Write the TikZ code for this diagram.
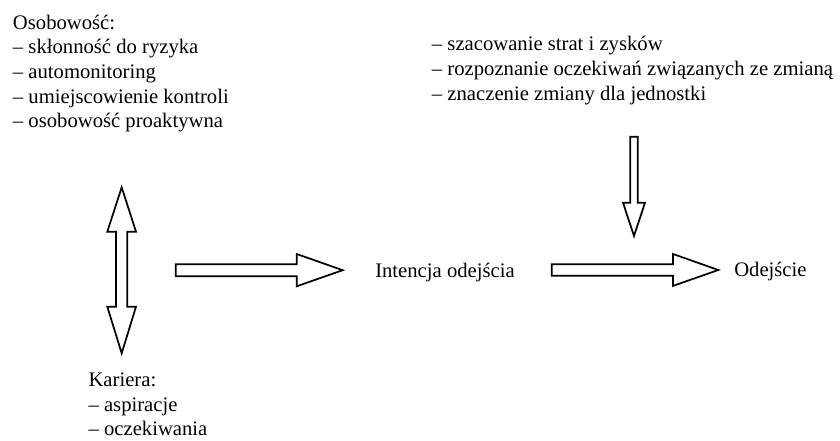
\documentclass[tikz,border=0pt]{standalone}
\usepackage{fontspec}
\setmainfont{Liberation Serif}
\begin{document}
\begin{tikzpicture}[x=0.75pt,y=-0.75pt,
  txt/.style={inner sep=0pt, align=left, anchor=base west,
              font=\fontsize{15.5}{18.5}\selectfont},
  blockarrow/.style={draw=black, line width=1.3pt, fill=white, line join=miter}]
\useasboundingbox (0,0) rectangle (840,441);

% text blocks (anchored at the baseline of their last line)
\node[txt] (osob) at (12.7,127.8) {Osobowość:\\– skłonność do ryzyka\\– automonitoring\\– umiejscowienie kontroli\\– osobowość proaktywna};
\node[txt] (ocena) at (431.7,100.2) {– szacowanie strat i zysków\\– rozpoznanie oczekiwań związanych ze zmianą\\– znaczenie zmiany dla jednostki};
\node[txt] (kariera) at (88.3,436) {Kariera:\\– aspiracje\\– oczekiwania};
\node[txt] (intencja) at (375,278) {Intencja odejścia};
\node[txt] (odejscie) at (734,277) {Odejście};

% double block arrow between personality and career
\draw[blockarrow] (121.7,187.3) -- (136,231.7) -- (127.3,231.7) -- (127.3,306.7)
  -- (136,306.7) -- (121.7,353.3) -- (107.3,306.7) -- (116,306.7) -- (116,231.7)
  -- (107.3,231.7) -- cycle;

% block arrow towards the intention
\draw[blockarrow] (175.7,264.3) -- (296.7,264.3) -- (296.7,254) -- (342.7,270.2)
  -- (296.7,286.3) -- (296.7,276.2) -- (175.7,276.2) -- cycle;

% block arrow from the intention to the exit
\draw[blockarrow] (551.7,264.2) -- (673,264.2) -- (673,254) -- (718.3,270)
  -- (673,285.9) -- (673,275.8) -- (551.7,275.8) -- cycle;

% block arrow down from the assessment list
\draw[blockarrow] (630.2,136.7) -- (637.8,136.7) -- (637.8,202.7) -- (645,202.7)
  -- (634,236) -- (623,202.7) -- (630.2,202.7) -- cycle;
\end{tikzpicture}
\end{document}
